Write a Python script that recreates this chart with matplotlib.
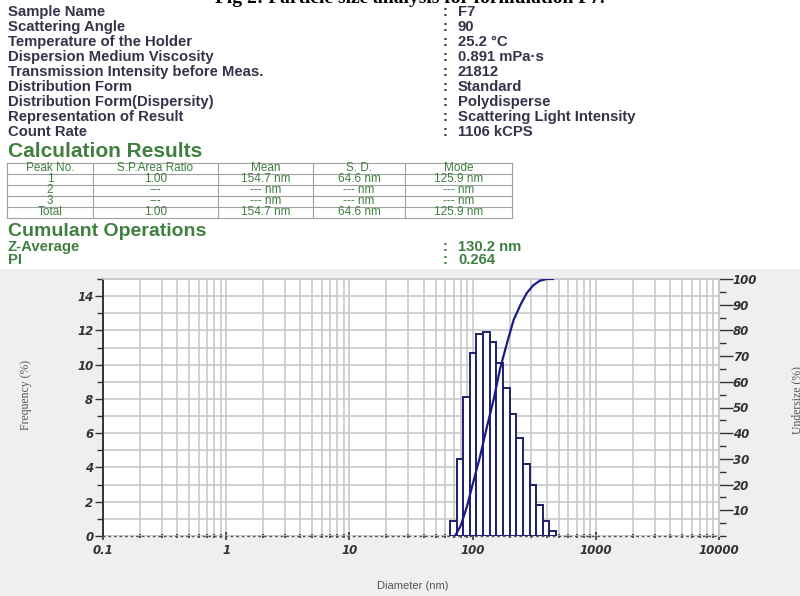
import numpy as np
import matplotlib
matplotlib.use("Agg")
import matplotlib.pyplot as plt
from matplotlib.patches import Rectangle
from matplotlib.ticker import LogLocator, MultipleLocator, FixedLocator, FixedFormatter, NullFormatter

info_labels = ["Sample Name", "Scattering Angle", "Temperature of the Holder",
               "Dispersion Medium Viscosity", "Transmission Intensity before Meas.",
               "Distribution Form", "Distribution Form(Dispersity)",
               "Representation of Result", "Count Rate"]
info_values = ["F7", "90", "25.2 °C", "0.891 mPa·s", "21812", "Standard",
               "Polydisperse", "Scattering Light Intensity", "1106 kCPS"]

table_header = ["Peak No.", "S.P.Area Ratio", "Mean", "S. D.", "Mode"]
table_rows = [["1", "1.00", "154.7 nm", "64.6 nm", "125.9 nm"],
              ["2", "---", "--- nm", "--- nm", "--- nm"],
              ["3", "---", "--- nm", "--- nm", "--- nm"],
              ["Total", "1.00", "154.7 nm", "64.6 nm", "125.9 nm"]]

cumulant_labels = ["Z-Average", "PI"]
cumulant_values = ["130.2 nm", "0.264"]

# histogram bins (centre diameter, nm) and frequency (%)
diam_nm = [69.7, 78.8, 89.3, 101.1, 114.4, 129.5, 146.6, 165.9,
           187.8, 212.6, 240.6, 272.3, 308.3, 349.0, 395.0, 447.1]
freq = [0.9, 4.5, 8.1, 10.7, 11.8, 11.9, 11.3, 10.1,
        8.65, 7.1, 5.7, 4.2, 2.95, 1.8, 0.85, 0.3]

# cumulative undersize curve
under_d = [72, 80, 90, 100, 115, 130, 148, 167, 190, 215, 245, 275, 310, 350, 400, 450]
under_pct = [0, 4, 11.5, 20, 31, 42, 53, 65, 75, 84, 90, 94.5, 97.5, 99.3, 100, 100]

x_ticks = [0.1, 1, 10, 100, 1000, 10000]
x_ticklabels = ["0.1", "1", "10", "100", "1000", "10000"]

W, H = 800, 596
fig = plt.figure(figsize=(W / 100, H / 100), dpi=100, facecolor="white")


def fx(px):
    return px / W


def fy(py):
    return 1 - py / H


# gray panel behind the chart
fig.patches.append(Rectangle((0, 0), 1, fy(269), transform=fig.transFigure,
                             facecolor="#efefef", edgecolor="none", zorder=-10))

# title, cut by the top edge
fig.text(fx(410), fy(3), "Fig 2: Particle size analysis for formulation F7.",
         ha="center", va="baseline", fontsize=14, fontweight="bold",
         family="Liberation Serif", color="black")

txt_col = "#33334a"
green = "#3f7f3f"
sans = "Liberation Sans"
fs_info = 10.7

for i, (lab, val) in enumerate(zip(info_labels, info_values)):
    y = fy(12 + 15 * i)
    fig.text(fx(8), y, lab, ha="left", va="center", fontsize=fs_info,
             fontweight="bold", family=sans, color=txt_col)
    fig.text(fx(443), y, ":", ha="left", va="center", fontsize=fs_info,
             fontweight="bold", family=sans, color=txt_col)
    fig.text(fx(458), y, val, ha="left", va="center", fontsize=fs_info,
             fontweight="bold", family=sans, color=txt_col)

fig.text(fx(8), fy(151), "Calculation Results", ha="left", va="center",
         fontsize=15, fontweight="bold", family=sans, color=green)

# results table
col_edges = [7, 93, 218, 313, 405, 512]
row_y = [168, 179, 190, 201, 212]
row_h = 11
tab_lines = dict(color="#a0a0a0", lw=0.8)
top_y, bot_y = row_y[0] - row_h / 2, row_y[-1] + row_h / 2
for j, cx in enumerate(col_edges):
    fig.add_artist(plt.Line2D([fx(cx), fx(cx)], [fy(top_y), fy(bot_y)],
                              transform=fig.transFigure, **tab_lines))
for yb in [top_y] + [r + row_h / 2 for r in row_y]:
    fig.add_artist(plt.Line2D([fx(col_edges[0]), fx(col_edges[-1])], [fy(yb), fy(yb)],
                              transform=fig.transFigure, **tab_lines))
for k, row in enumerate([table_header] + table_rows):
    for j, cell in enumerate(row):
        cx = (col_edges[j] + col_edges[j + 1]) / 2
        fig.text(fx(cx), fy(row_y[k]), cell, ha="center", va="center",
                 fontsize=8.5, family=sans, color=green)

fig.text(fx(8), fy(231), "Cumulant Operations", ha="left", va="center",
         fontsize=14, fontweight="bold", family=sans, color=green)
for i, (lab, val) in enumerate(zip(cumulant_labels, cumulant_values)):
    y = fy(247 + 13 * i)
    fig.text(fx(8), y, lab, ha="left", va="center", fontsize=fs_info,
             fontweight="bold", family=sans, color=green)
    fig.text(fx(443), y, ":", ha="left", va="center", fontsize=fs_info,
             fontweight="bold", family=sans, color=green)
    fig.text(fx(458), y, val, ha="left", va="center", fontsize=fs_info,
             fontweight="bold", family=sans, color=green)

# ---- plot ----
ax = fig.add_axes([fx(103), fy(536), fx(719) - fx(103), fy(279) - fy(536)])
ax.set_facecolor("white")
ax.set_xscale("log")
ax.set_xlim(0.1, 10000)
ax.set_ylim(0, 15)

grid_col = "#c8c8c8"
ax.xaxis.set_major_locator(FixedLocator(x_ticks))
ax.xaxis.set_major_formatter(FixedFormatter(x_ticklabels))
ax.xaxis.set_minor_locator(LogLocator(base=10, subs=np.arange(2, 10), numticks=20))
ax.xaxis.set_minor_formatter(NullFormatter())
ax.yaxis.set_major_locator(MultipleLocator(2))
ax.yaxis.set_minor_locator(MultipleLocator(1))
ax.grid(True, which="both", axis="both", color=grid_col, lw=1.2, zorder=0)
ax.set_axisbelow(True)

tick_font = dict(fontsize=8.5, fontweight="bold", fontstyle="italic", color="#333333")
ax.tick_params(axis="y", which="major", direction="out", length=6, width=1, color="#333333", pad=1)
ax.tick_params(axis="y", which="minor", direction="out", length=4, width=1, color="#333333")
ax.tick_params(axis="x", which="major", direction="inout", length=6, width=1.2, color="#333333", pad=3)
ax.tick_params(axis="x", which="minor", direction="inout", length=3, width=1.2, color="#333333")
for lab in ax.get_xticklabels() + ax.get_yticklabels():
    lab.set(**tick_font)

for s in ["top", "right"]:
    ax.spines[s].set_color(grid_col)
    ax.spines[s].set_linewidth(1.2)
ax.spines["left"].set_color("#333333")
ax.spines["left"].set_linewidth(1.4)
ax.spines["bottom"].set_color("#555555")
ax.spines["bottom"].set_linestyle((0, (1, 3)))
ax.spines["bottom"].set_linewidth(1)

# bin edges from the centres (geometric midpoints)
logc = np.log10(diam_nm)
half = (logc[1] - logc[0]) / 2
edges = 10 ** np.concatenate([[logc[0] - half], (logc[:-1] + logc[1:]) / 2, [logc[-1] + half]])
ax.bar(edges[:-1], freq, width=np.diff(edges), align="edge",
       facecolor="white", edgecolor="#1f1f6a", linewidth=1.4, zorder=3)

ax2 = ax.twinx()
ax2.set_ylim(0, 100)
ax2.plot(under_d, under_pct, color="#1a1a88", lw=1.6, zorder=4)
ax2.yaxis.set_major_locator(FixedLocator([10, 20, 30, 40, 50, 60, 70, 80, 90, 100]))
ax2.yaxis.set_minor_locator(MultipleLocator(5))
ax2.tick_params(axis="y", which="major", direction="out", length=10, width=1, color="#333333", pad=0)
ax2.tick_params(axis="y", which="minor", direction="out", length=5, width=1, color="#333333")
for lab in ax2.get_yticklabels():
    lab.set(**tick_font)
for s in ["top", "left", "bottom"]:
    ax2.spines[s].set_visible(False)
ax2.spines["right"].set_color(grid_col)

fig.text(fx(26), fy(395), "Frequency (%)", rotation=90, ha="center", va="center",
         fontsize=8.5, family="Liberation Serif", color="#555555")
fig.text(fx(797), fy(400), "Undersize (%)", rotation=90, ha="center", va="center",
         fontsize=8.5, family="Liberation Serif", color="#555555")
fig.text(fx(413), fy(586), "Diameter (nm)", ha="center", va="center",
         fontsize=8, family=sans, color="#555555")

fig.savefig("out.png", dpi=100, facecolor=fig.get_facecolor())
